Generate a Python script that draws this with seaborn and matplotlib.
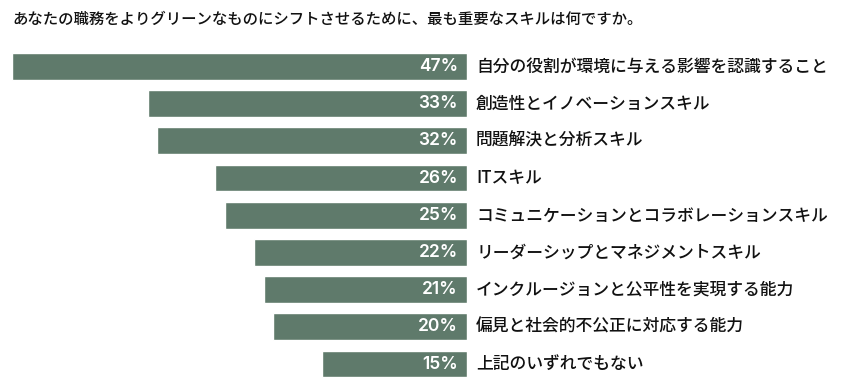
import matplotlib
matplotlib.use("Agg")
import matplotlib.pyplot as plt
import seaborn as sns
import pandas as pd

categories = [
    "自分の役割が環境に与える影響を認識すること",
    "創造性とイノベーションスキル",
    "問題解決と分析スキル",
    "ITスキル",
    "コミュニケーションとコラボレーションスキル",
    "リーダーシップとマネジメントスキル",
    "インクルージョンと公平性を実現する能力",
    "偏見と社会的不公正に対応する能力",
    "上記のいずれでもない",
]
values = [47, 33, 32, 26, 25, 22, 21, 20, 15]
title = "あなたの職務をよりグリーンなものにシフトさせるために、最も重要なスキルは何ですか。"

sns.set_theme(style="white")
plt.rcParams['font.family'] = ['Noto Sans CJK JP', 'DejaVu Sans']

df = pd.DataFrame({"category": categories, "value": values})

fig = plt.figure(figsize=(8.46, 3.87), dpi=100)
ax = fig.add_axes([12/846, 1 - 382.6/387, 455/846, (382.6 - 47.9)/387])
bar_color = "#5f7a6b"
sns.barplot(data=df, x="value", y="category", orient="h", color=bar_color,
            width=0.72, ax=ax, saturation=1)
ax.set_xlim(47, 0)
ax.set_ylim(8.5, -0.5)
ax.axis("off")

for i, (c, v) in enumerate(zip(categories, values)):
    ax.annotate(f"{v}%", xy=(0, i), xytext=(-6.5, 0), textcoords="offset points",
                ha="right", va="center", color="white", fontsize=12.5,
                fontweight="semibold", family=["Inter", "DejaVu Sans"])
    ax.annotate(c, xy=(0, i), xytext=(6.5, 0), textcoords="offset points",
                ha="left", va="center", color="#111111", fontsize=12.1,
                fontweight="medium", annotation_clip=False)

fig.text(12/846, 1 - 19/387, title, ha="left", va="center", fontsize=11.1,
         color="#111111", fontweight="medium")

fig.savefig("out.png", dpi=100, facecolor="white")
